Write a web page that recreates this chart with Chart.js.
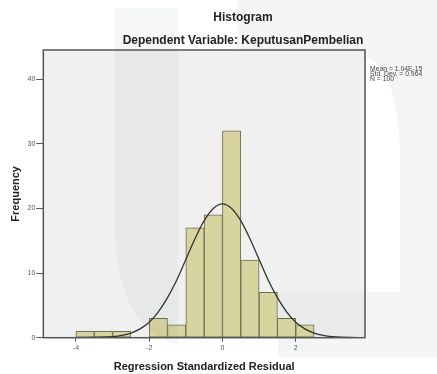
<!DOCTYPE html>
<html>
<head>
<meta charset="utf-8">
<script src="https://cdn.jsdelivr.net/npm/chart.js@4/dist/chart.umd.min.js"></script>
<style>
  html, body { margin: 0; padding: 0; background: #fff; }
  #wrap { width: 437px; height: 374px; position: relative; }
</style>
</head>
<body>
<div id="wrap"><canvas id="hist"></canvas></div>
<script>
// histogram bins (0.5 wide), centers and counts
const binCenters = [-3.75, -3.25, -2.75, -1.75, -1.25, -0.75, -0.25, 0.25, 0.75, 1.25, 1.75, 2.25];
const counts     = [1, 1, 1, 3, 2, 17, 19, 32, 12, 7, 3, 2];

// normal curve
const curveX = [-4.75, -4.5, -4.25, -4, -3.75, -3.5, -3.25, -3, -2.75, -2.5, -2.25, -2, -1.75, -1.5, -1.25, -1, -0.75, -0.5, -0.25, 0,
                0.25, 0.5, 0.75, 1, 1.25, 1.5, 1.75, 2, 2.25, 2.5, 2.75, 3, 3.25, 3.5, 3.75];
const curveY = [0, 0, 0, 0, 0.01, 0.03, 0.07, 0.16, 0.35, 0.72, 1.36, 2.4, 4.0, 6.2, 8.9, 12.1, 15.3, 18.1, 20.0, 20.7,
                20.0, 18.1, 15.3, 12.1, 8.9, 6.2, 4.0, 2.4, 1.36, 0.72, 0.35, 0.16, 0.07, 0.03, 0.01];

const xTicks = [-4, -2, 0, 2];
const yTicks = [0, 10, 20, 30, 40];

const titleText = "Histogram";
const subtitleText = "Dependent Variable: KeputusanPembelian";
const statsLines = ["Mean = 1.04E-15", "Std. Dev. = 0.964", "N = 100"];

const C = {
  bar: "#d8d4a0", barEdge: "#6e6c50", curve: "#333333",
  plot: "#f0f0f0", frame: "#555555", tick: "#555555", text: "#222222"
};
const FONT = "'Liberation Sans', Arial, sans-serif";

const decor = {
  id: "decor",
  beforeDraw(chart) {
    const { ctx, chartArea: a } = chart;
    ctx.save();
    // faint watermark, right part (mostly hidden by the plot)
    ctx.fillStyle = "rgba(70,105,98,0.06)";
    ctx.beginPath();
    ctx.moveTo(237, 0); ctx.lineTo(437, 0); ctx.lineTo(437, 357);
    ctx.lineTo(278, 357); ctx.lineTo(278, 292); ctx.lineTo(400, 292);
    ctx.lineTo(400, 150); ctx.quadraticCurveTo(395, 62, 366, 58);
    ctx.lineTo(237, 58); ctx.closePath();
    ctx.fill();
    ctx.fillStyle = C.plot;
    ctx.fillRect(a.left, a.top, a.right - a.left, a.bottom - a.top);
    ctx.fillStyle = "rgba(70,105,98,0.04)";
    ctx.fillRect(278, 292, a.right - 278, a.bottom - 292);
    ctx.restore();
  },
  afterDraw(chart) {
    const { ctx, chartArea: a } = chart;
    ctx.save();
    // plot frame
    ctx.strokeStyle = C.frame;
    ctx.lineWidth = 1.5;
    ctx.strokeRect(a.left, a.top, a.right - a.left, a.bottom - a.top);

    // faint watermark, left band
    ctx.fillStyle = "rgba(70,105,98,0.05)";
    ctx.beginPath();
    ctx.moveTo(115, 8); ctx.lineTo(178, 8); ctx.lineTo(178, 345);
    ctx.quadraticCurveTo(118, 330, 115, 230); ctx.closePath();
    ctx.fill();

    // titles
    ctx.fillStyle = C.text;
    ctx.textAlign = "center";
    ctx.textBaseline = "middle";
    ctx.font = "bold 12px " + FONT;
    ctx.fillText(titleText, 243, 18);
    ctx.fillText(subtitleText, 243, 41);

    // stats box
    ctx.fillStyle = "#444";
    ctx.textAlign = "left";
    ctx.font = "6.8px " + FONT;
    statsLines.forEach((t, i) => ctx.fillText(t, 370, 69 + i * 5));
    ctx.restore();
  }
};

new Chart(document.getElementById("hist"), {
  data: {
    datasets: [
      {
        type: "line",
        order: 0,
        data: curveX.map((x, i) => ({ x, y: curveY[i] })),
        borderColor: C.curve,
        borderWidth: 1.3,
        pointRadius: 0,
        fill: false,
        cubicInterpolationMode: "monotone"
      },
      {
        type: "bar",
        order: 1,
        data: binCenters.map((x, i) => ({ x, y: counts[i] })),
        backgroundColor: C.bar,
        borderColor: C.barEdge,
        borderWidth: 1,
        borderSkipped: false,
        barPercentage: 1,
        categoryPercentage: 1
      }
    ]
  },
  options: {
    responsive: true, maintainAspectRatio: false, animation: false,
    layout: { padding: { top: 50, right: 72, left: 0, bottom: 0 } },
    plugins: { legend: { display: false }, tooltip: { enabled: false }, title: { display: false } },
    scales: {
      x: {
        type: "linear", min: -4.89, max: 3.89, offset: false,
        afterBuildTicks: s => { s.ticks = xTicks.map(v => ({ value: v })); },
        afterFit: s => { s.height = 36.3; },
        grid: { offset: false, drawOnChartArea: false, tickLength: 4, tickColor: C.tick, lineWidth: 1 },
        border: { display: false },
        ticks: { font: { size: 7, family: FONT }, color: C.tick, padding: 2, maxRotation: 0 },
        title: { display: true, text: "Regression Standardized Residual", color: C.text,
                 font: { size: 11, weight: "bold", family: FONT }, padding: { top: 0, bottom: 0 } }
      },
      y: {
        min: 0, max: 44.5,
        afterBuildTicks: s => { s.ticks = yTicks.map(v => ({ value: v })); },
        afterFit: s => { s.width = 43.3; },
        grid: { drawOnChartArea: false, tickLength: 7, tickColor: C.tick, lineWidth: 1 },
        border: { display: false },
        ticks: { font: { size: 7, family: FONT }, color: C.tick, padding: 1 },
        title: { display: true, text: "Frequency", color: C.text,
                 font: { size: 11, weight: "bold", family: FONT }, padding: { top: 9, bottom: 0 } }
      }
    }
  },
  plugins: [decor]
});
</script>
</body>
</html>
